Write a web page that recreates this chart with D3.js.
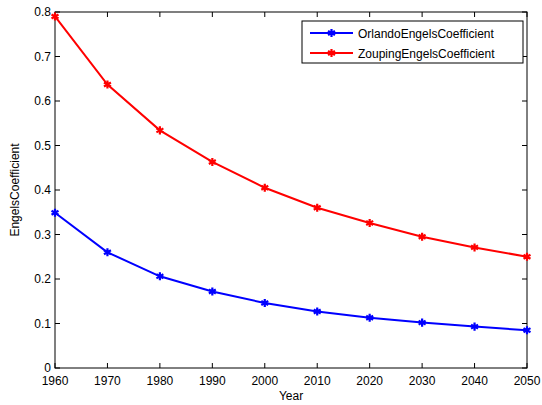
<!DOCTYPE html>
<html>
<head>
<meta charset="utf-8">
<script src="https://cdn.jsdelivr.net/npm/d3@7"></script>
<style>
  body { margin: 0; background: #fff; }
  svg { display: block; font-family: "Liberation Sans", Arial, sans-serif; }
</style>
</head>
<body>
<svg id="chart" width="542" height="405"></svg>
<script>
// data
var years = [1960, 1970, 1980, 1990, 2000, 2010, 2020, 2030, 2040, 2050];
var orlando = [0.349, 0.260, 0.206, 0.172, 0.146, 0.127, 0.113, 0.102, 0.093, 0.085];
var zouping = [0.790, 0.637, 0.534, 0.463, 0.405, 0.360, 0.326, 0.295, 0.271, 0.250];
var yTicks = [0, 0.1, 0.2, 0.3, 0.4, 0.5, 0.6, 0.7, 0.8];
var seriesNames = ["OrlandoEngelsCoefficient", "ZoupingEngelsCoefficient"];
var seriesColors = ["#0000ff", "#ff0000"];

var svg = d3.select("#chart");
// note: "top" is a reserved window property, so use prefixed names
var pLeft = 55, pRight = 527, pTop = 12, pBottom = 368;
var fs = 12;

var x = d3.scaleLinear().domain([1960, 2050]).range([pLeft, pRight]);
var y = d3.scaleLinear().domain([0, 0.8]).range([pBottom, pTop]);

// box
svg.append("rect")
  .attr("x", pLeft).attr("y", pTop)
  .attr("width", pRight - pLeft).attr("height", pBottom - pTop)
  .attr("fill", "none").attr("stroke", "#000").attr("stroke-width", 1);

var tl = 5;
// x ticks (bottom + top, pointing in)
var gx = svg.append("g");
years.forEach(function (d) {
  gx.append("line").attr("x1", x(d)).attr("x2", x(d)).attr("y1", pBottom).attr("y2", pBottom - tl).attr("stroke", "#000");
  gx.append("line").attr("x1", x(d)).attr("x2", x(d)).attr("y1", pTop).attr("y2", pTop + tl).attr("stroke", "#000");
  gx.append("text").attr("x", x(d)).attr("y", pBottom + 17)
    .attr("text-anchor", "middle").attr("font-size", fs).text(d);
});

// y ticks (left + right)
var gy = svg.append("g");
yTicks.forEach(function (d) {
  gy.append("line").attr("x1", pLeft).attr("x2", pLeft + tl).attr("y1", y(d)).attr("y2", y(d)).attr("stroke", "#000");
  gy.append("line").attr("x1", pRight).attr("x2", pRight - tl).attr("y1", y(d)).attr("y2", y(d)).attr("stroke", "#000");
  gy.append("text").attr("x", pLeft - 4).attr("y", y(d) + 4)
    .attr("text-anchor", "end").attr("font-size", fs).text(d3.format("")(d));
});

svg.append("text").attr("x", (pLeft + pRight) / 2).attr("y", 400)
  .attr("text-anchor", "middle").attr("font-size", fs).text("Year");
svg.append("text").attr("transform", "translate(19," + ((pTop + pBottom) / 2) + ") rotate(-90)")
  .attr("text-anchor", "middle").attr("font-size", fs).text("EngelsCoefficient");

var line = d3.line().x(function (d) { return x(d[0]); }).y(function (d) { return y(d[1]); });
var star = d3.symbol().type(d3.symbolAsterisk).size(45);

[orlando, zouping].forEach(function (vals, i) {
  var pts = years.map(function (yr, j) { return [yr, vals[j]]; });
  svg.append("path").datum(pts)
    .attr("d", line).attr("fill", "none")
    .attr("stroke", seriesColors[i]).attr("stroke-width", 2);
  svg.selectAll(".m" + i).data(pts).enter().append("path")
    .attr("class", "m" + i)
    .attr("transform", function (d) { return "translate(" + x(d[0]) + "," + y(d[1]) + ")"; })
    .attr("d", star)
    .attr("fill", "none").attr("stroke", seriesColors[i]).attr("stroke-width", 2.2);
});

// legend
var lg = svg.append("g");
lg.append("rect").attr("x", 302).attr("y", 21).attr("width", 221).attr("height", 42)
  .attr("fill", "#fff").attr("stroke", "#000");
seriesNames.forEach(function (name, i) {
  var ly = 33 + i * 20;
  lg.append("line").attr("x1", 310).attr("x2", 353).attr("y1", ly).attr("y2", ly)
    .attr("stroke", seriesColors[i]).attr("stroke-width", 2);
  lg.append("path").attr("transform", "translate(331.5," + ly + ")").attr("d", star)
    .attr("fill", "none").attr("stroke", seriesColors[i]).attr("stroke-width", 2.2);
  lg.append("text").attr("x", 358).attr("y", ly + 4.5).attr("font-size", fs).text(name);
});
</script>
</body>
</html>
